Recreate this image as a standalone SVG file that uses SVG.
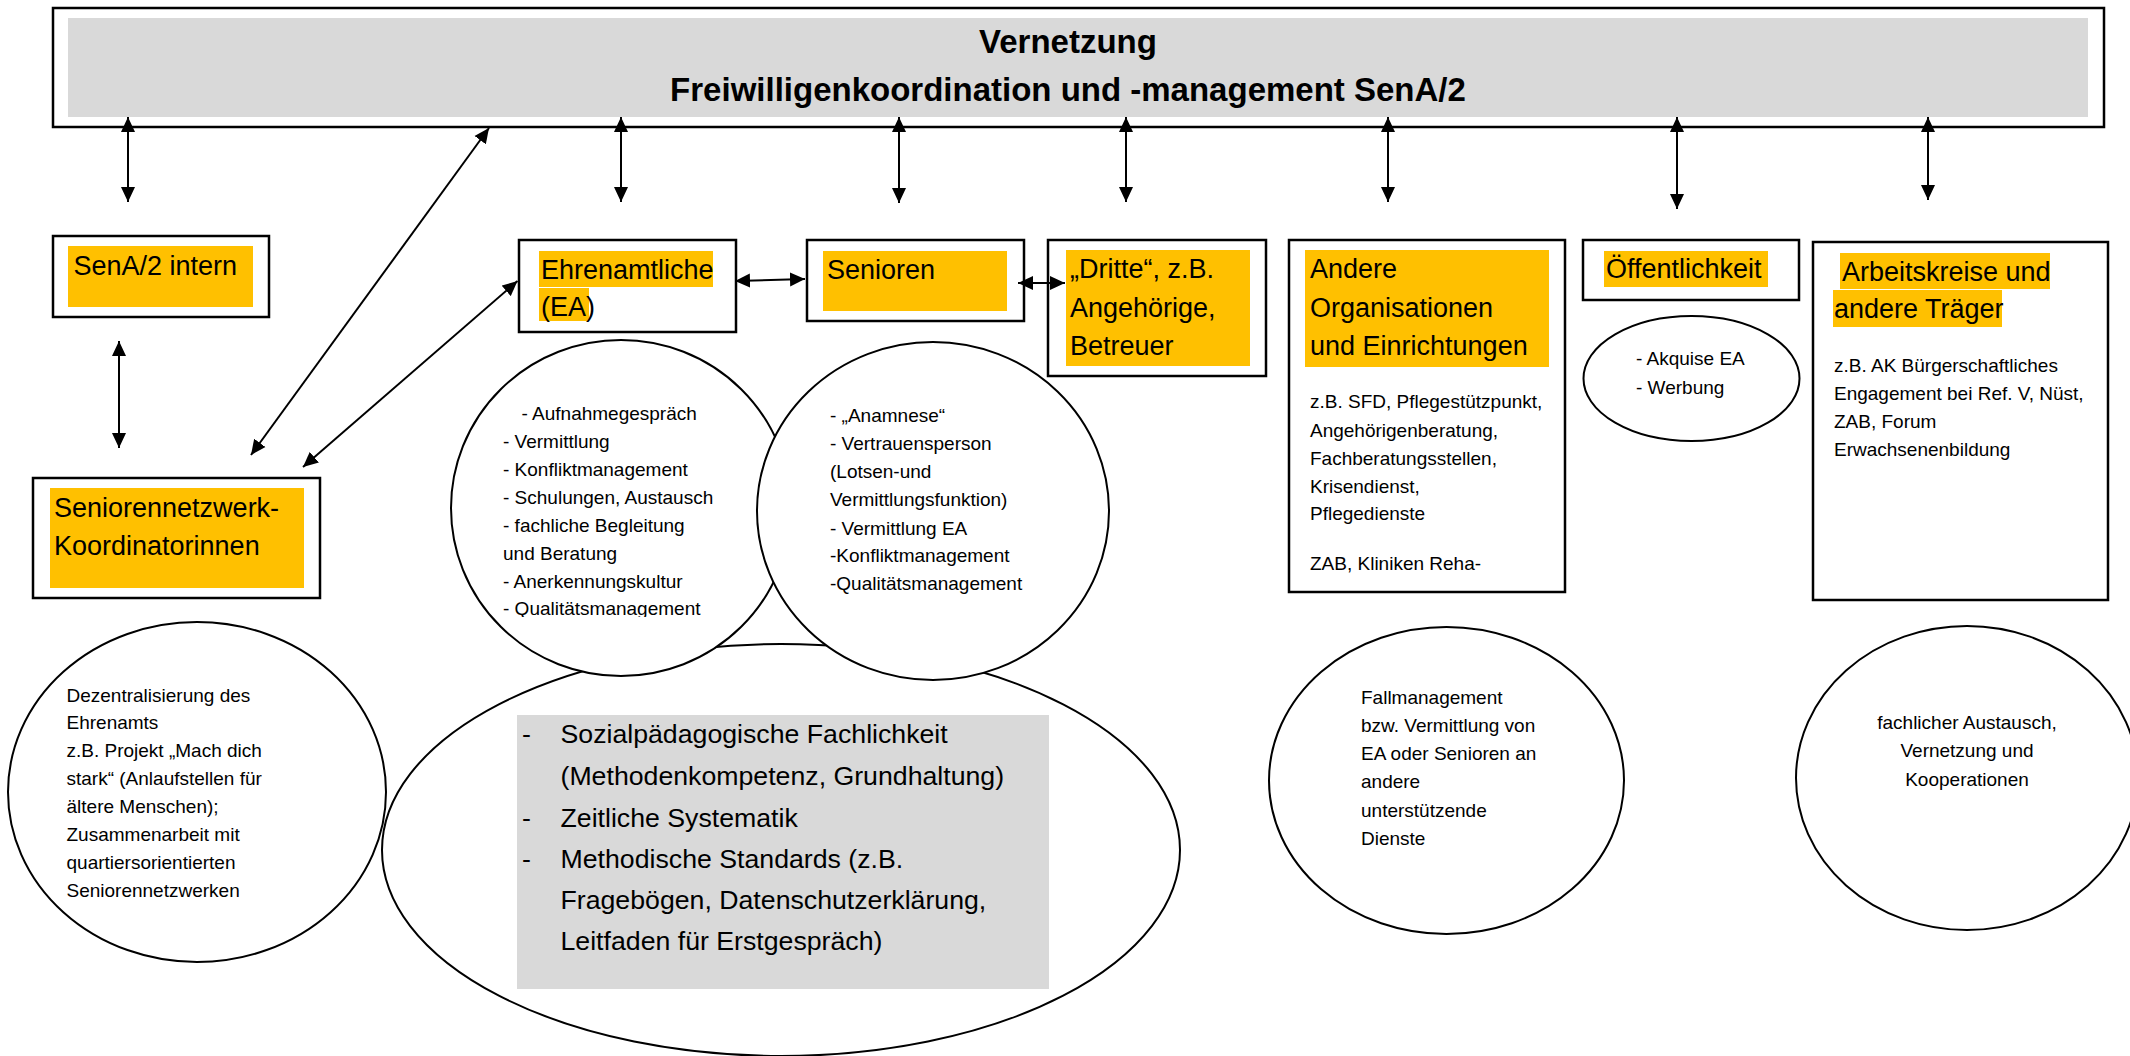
<svg xmlns="http://www.w3.org/2000/svg" width="2130" height="1056" viewBox="0 0 2130 1056">
<defs>
<style>
.box{fill:#fff;stroke:#000;stroke-width:2.5}
.gray{fill:#D9D9D9}
.hl{fill:#FFC000}
.ell{fill:#fff;stroke:#000;stroke-width:2}
.t{font-family:"Liberation Sans",Arial,sans-serif;fill:#000}
.lbl{font-size:27px}
.txt{font-size:19px}
.big{font-size:26.7px}
.title{font-size:33px;font-weight:bold}
.con{stroke:#000;stroke-width:2;fill:none;marker-start:url(#ah);marker-end:url(#ah)}
</style>
<marker id="ah" viewBox="0 0 15 15" refX="15" refY="7.5" markerWidth="15" markerHeight="15" markerUnits="userSpaceOnUse" orient="auto-start-reverse">
<path d="M0,0.5 L15,7.5 L0,14.5 z" fill="#000"/>
</marker>
<clipPath id="clipEA"><rect x="440" y="390" width="360" height="227"/></clipPath>
</defs>
<rect width="2130" height="1056" fill="#fff"/>

<g id="vernetzung">
<rect class="box" x="53" y="8" width="2051" height="119"/>
<rect class="gray" x="68" y="18" width="2020" height="99"/>
<text class="t title" x="1068" y="53" text-anchor="middle">Vernetzung</text>
<text class="t title" x="1068" y="101" text-anchor="middle">Freiwilligenkoordination und -management SenA/2</text>
</g>

<g id="sozialpaedagogik">
<ellipse class="ell" cx="781" cy="850" rx="399" ry="206"/>
<rect class="gray" x="517" y="715" width="532" height="274"/>
<g class="t big">
<text x="522" y="743">-</text><text x="560.5" y="743">Sozialpädagogische Fachlichkeit</text>
<text x="560.5" y="785">(Methodenkompetenz, Grundhaltung)</text>
<text x="522" y="827">-</text><text x="560.5" y="827">Zeitliche Systematik</text>
<text x="522" y="868">-</text><text x="560.5" y="868">Methodische Standards (z.B.</text>
<text x="560.5" y="909">Fragebögen, Datenschutzerklärung,</text>
<text x="560.5" y="950">Leitfaden für Erstgespräch)</text>
</g>
</g>

<g id="ea-aufgaben">
<ellipse class="ell" cx="621" cy="508" rx="170" ry="168"/>
<g class="t txt" clip-path="url(#clipEA)">
<text x="521.5" y="420">- Aufnahmegespräch</text>
<text x="503" y="448">- Vermittlung</text>
<text x="503" y="476">- Konfliktmanagement</text>
<text x="503" y="504">- Schulungen, Austausch</text>
<text x="503" y="532">- fachliche Begleitung</text>
<text x="503" y="560">und Beratung</text>
<text x="503" y="588">- Anerkennungskultur</text>
<text x="503" y="615">- Qualitätsmanagement</text>
</g>
</g>

<g id="senioren-aufgaben">
<ellipse class="ell" cx="933" cy="511" rx="176" ry="169"/>
<g class="t txt">
<text x="830" y="422">- „Anamnese“</text>
<text x="830" y="450">- Vertrauensperson</text>
<text x="830" y="478">(Lotsen-und</text>
<text x="830" y="506">Vermittlungsfunktion)</text>
<text x="830" y="535">- Vermittlung EA</text>
<text x="830" y="562">-Konfliktmanagement</text>
<text x="830" y="590">-Qualitätsmanagement</text>
</g>
</g>

<g id="sena2-intern">
<rect class="box" x="53" y="236" width="216" height="81"/>
<rect class="hl" x="68" y="246" width="185" height="61"/>
<text class="t lbl" x="73.5" y="275">SenA/2 intern</text>
</g>

<g id="seniorennetzwerk">
<rect class="box" x="33" y="478" width="287" height="120"/>
<rect class="hl" x="50" y="488" width="254" height="100"/>
<text class="t lbl" x="54" y="517">Seniorennetzwerk-</text>
<text class="t lbl" x="54" y="555">Koordinatorinnen</text>
</g>

<g id="ehrenamtliche">
<rect class="box" x="519" y="240" width="217" height="92"/>
<rect class="hl" x="539" y="251" width="174" height="36"/>
<rect class="hl" x="539" y="288" width="50" height="33"/>
<text class="t lbl" x="541" y="279">Ehrenamtliche</text>
<text class="t lbl" x="541" y="316">(EA)</text>
</g>

<g id="senioren">
<rect class="box" x="807" y="240" width="217" height="81"/>
<rect class="hl" x="823" y="251" width="184" height="60"/>
<text class="t lbl" x="827" y="279">Senioren</text>
</g>

<g id="dritte">
<rect class="box" x="1048" y="240" width="218" height="136"/>
<rect class="hl" x="1066" y="250" width="184" height="116"/>
<text class="t lbl" x="1070" y="278">„Dritte“, z.B.</text>
<text class="t lbl" x="1070" y="317">Angehörige,</text>
<text class="t lbl" x="1070" y="355">Betreuer</text>
</g>

<g id="andere-organisationen">
<rect class="box" x="1289" y="240" width="276" height="352"/>
<rect class="hl" x="1305" y="250" width="244" height="117"/>
<text class="t lbl" x="1310" y="278">Andere</text>
<text class="t lbl" x="1310" y="317">Organisationen</text>
<text class="t lbl" x="1310" y="355">und Einrichtungen</text>
<g class="t txt">
<text x="1310" y="408">z.B. SFD, Pflegestützpunkt,</text>
<text x="1310" y="437">Angehörigenberatung,</text>
<text x="1310" y="465">Fachberatungsstellen,</text>
<text x="1310" y="493">Krisendienst,</text>
<text x="1310" y="520">Pflegedienste</text>
<text x="1310" y="570">ZAB, Kliniken Reha-</text>
</g>
</g>

<g id="oeffentlichkeit">
<rect class="box" x="1583" y="240" width="216" height="60"/>
<rect class="hl" x="1604" y="251" width="164" height="36"/>
<text class="t lbl" x="1606" y="278">Öffentlichkeit</text>
</g>

<g id="akquise">
<ellipse class="ell" cx="1691.5" cy="378.5" rx="108" ry="62.5"/>
<text class="t txt" x="1636" y="365">- Akquise EA</text>
<text class="t txt" x="1636" y="394">- Werbung</text>
</g>

<g id="arbeitskreise">
<rect class="box" x="1813" y="242" width="295" height="358"/>
<rect class="hl" x="1840" y="253" width="210" height="36"/>
<rect class="hl" x="1833" y="290" width="169" height="37"/>
<text class="t lbl" x="1842" y="281">Arbeitskreise und</text>
<text class="t lbl" x="1834" y="318">andere Träger</text>
<g class="t txt">
<text x="1834" y="372">z.B. AK Bürgerschaftliches</text>
<text x="1834" y="400">Engagement bei Ref. V, Nüst,</text>
<text x="1834" y="428">ZAB, Forum</text>
<text x="1834" y="456">Erwachsenenbildung</text>
</g>
</g>

<g id="dezentralisierung">
<ellipse class="ell" cx="197" cy="792" rx="189" ry="170"/>
<g class="t txt">
<text x="66.5" y="702">Dezentralisierung des</text>
<text x="66.5" y="729">Ehrenamts</text>
<text x="66.5" y="757">z.B. Projekt „Mach dich</text>
<text x="66.5" y="785">stark“ (Anlaufstellen für</text>
<text x="66.5" y="813">ältere Menschen);</text>
<text x="66.5" y="841">Zusammenarbeit mit</text>
<text x="66.5" y="869">quartiersorientierten</text>
<text x="66.5" y="897">Seniorennetzwerken</text>
</g>
</g>

<g id="fallmanagement">
<ellipse class="ell" cx="1446.5" cy="780.5" rx="177.5" ry="153.5"/>
<g class="t txt">
<text x="1361" y="704">Fallmanagement</text>
<text x="1361" y="732">bzw. Vermittlung  von</text>
<text x="1361" y="760">EA oder Senioren an</text>
<text x="1361" y="788">andere</text>
<text x="1361" y="817">unterstützende</text>
<text x="1361" y="845">Dienste</text>
</g>
</g>

<g id="austausch">
<ellipse class="ell" cx="1967" cy="778" rx="171" ry="152"/>
<g class="t txt" text-anchor="middle">
<text x="1967" y="729">fachlicher Austausch,</text>
<text x="1967" y="757">Vernetzung und</text>
<text x="1967" y="786">Kooperationen</text>
</g>
</g>

<g id="connectors">
<line class="con" x1="128" y1="117" x2="128" y2="202"/>
<line class="con" x1="621" y1="117" x2="621" y2="202"/>
<line class="con" x1="899" y1="117" x2="899" y2="203"/>
<line class="con" x1="1126" y1="117" x2="1126" y2="202"/>
<line class="con" x1="1388" y1="117" x2="1388" y2="202"/>
<line class="con" x1="1677" y1="117" x2="1677" y2="209"/>
<line class="con" x1="1928" y1="117" x2="1928" y2="200"/>
<line class="con" x1="489" y1="128" x2="251" y2="455"/>
<line class="con" x1="517.5" y1="281" x2="303" y2="467"/>
<line class="con" x1="119" y1="341" x2="119" y2="448"/>
<line class="con" x1="735" y1="281" x2="805" y2="279"/>
<line class="con" x1="1018" y1="283" x2="1065" y2="283"/>
</g>
</svg>
